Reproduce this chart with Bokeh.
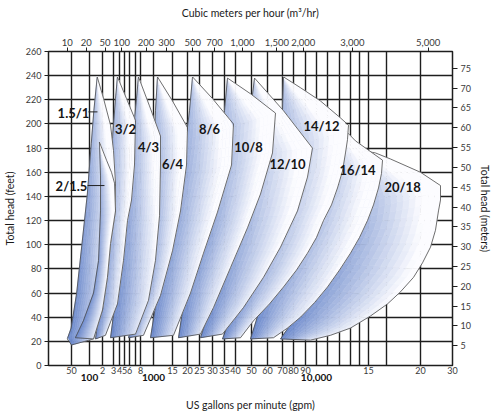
import numpy as np
from bokeh.plotting import figure
from bokeh.models import LinearAxis, Range1d, FixedTicker
from bokeh.embed import file_html
from bokeh.resources import INLINE
from bokeh.core.properties import value

# ---------------- scale of the chart (non-uniform gpm axis) ----------------
GPM_SCALE = [25, 50, 100, 200, 300, 400, 500, 600, 700, 800, 1000, 1500, 2000, 2500,
             3000, 3500, 4000, 5000, 6000, 7000, 8000, 9000, 10000, 11000, 12000,
             13000, 14000, 15000, 17500, 20000, 30000]
SCALE_POS = [0, 23, 41, 54, 65, 71, 76, 81, 87, 92, 105, 124, 139, 151, 164, 176, 187,
             203, 219, 234, 245, 257, 268, 279, 291, 302, 311, 320, 338, 372, 404]

# ---------------- tick labels ----------------
GPM_TICKS_SMALL = [50, 200, 300, 400, 500, 600, 800, 1500, 2000, 2500, 3000, 3500, 4000,
                   5000, 6000, 7000, 8000, 9000, 15000, 20000, 30000]
GPM_TEXT_SMALL = ["50", "2", "3", "4", "5", "6", "8", "15", "20", "25", "30", "35", "40",
                  "50", "60", "70", "80", "90", "15", "20", "30"]
GPM_TICKS_MAJOR = [100, 1000, 10000]
GPM_TEXT_MAJOR = ["100", "1000", "10,000"]
M3H_TICKS = [10, 20, 50, 100, 200, 300, 500, 700, 1000, 1500, 2000, 3000, 5000]
M3H_TEXT = ["10", "20", "50", "100", "200", "300", "500", "700", "1,000", "1,500",
            "2,000", "3,000", "5,000"]
FT_TICKS = list(range(0, 261, 20))
M_TICKS = list(range(5, 76, 5))
GPM_PER_M3H = 4.4029
M_PER_FT = 0.3048

# ---------------- pump ranges (gpm, feet), outline from bottom-left over the top ----------------
P1_5_1_GPM = [50, 44, 49.5, 61, 75, 92, 110, 126, 151, 208, 269, 300, 330, 330, 269, 240, 200, 124]
P1_5_1_FT = [17, 22, 31, 60, 101, 142, 184, 211, 239, 221, 199, 178, 151, 128, 101, 73, 46, 22]
P2_1_5_GPM = [58, 79, 124, 162, 180, 180, 170, 232, 279, 315, 330, 269, 240, 200, 124]
P2_1_5_FT = [23, 37, 60, 87, 128, 157, 185, 170, 160, 151, 128, 101, 73, 46, 22]
P3_2_GPM = [138, 232, 279, 300, 330, 363, 538, 700, 682, 632, 558, 478, 363, 223]
P3_2_FT = [22, 95, 178, 199, 221, 239, 221, 203, 166, 137, 120, 87, 51, 25]
P4_3_GPM = [269, 418, 558, 665, 719, 758, 933, 1161, 1161, 1137, 1043, 918, 700]
P4_3_FT = [23, 87, 137, 195, 221, 239, 215, 190, 166, 124, 87, 54, 26]
P6_4_GPM = [579, 872, 950, 1000, 1043, 1089, 1500, 2000, 1963, 1749, 1500, 1161, 842]
P6_4_FT = [23, 70, 120, 170, 211, 239, 219, 197, 166, 128, 95, 58, 25]
P8_6_GPM = [950, 1100, 1500, 1852, 2076, 2196, 3000, 3903, 3812, 3198, 2644, 2115, 1529]
P8_6_FT = [23, 62, 120, 170, 211, 239, 221, 200, 166, 127, 93, 60, 25]
P10_8_GPM = [1683, 1927, 2720, 3240, 3500, 3630, 4931, 6514, 6316, 5541, 4729, 3764, 3039, 2535]
P10_8_FT = [23, 62, 112, 161, 211, 238, 225, 209, 176, 142, 114, 81, 48, 26]
P12_10_GPM = [2535, 3117, 3764, 4289, 4931, 5176, 7085, 9622, 9174, 8320, 6859, 5733, 4472, 3410]
P12_10_FT = [23, 62, 112, 161, 211, 238, 211, 180, 156, 128, 98, 73, 48, 26]
P14_12_GPM = [3410, 4289, 5668, 6859, 7000, 7085, 8569, 10353, 12087, 12811, 12719, 12535, 12265,
              11827, 11323, 10625, 10000, 9174, 8239, 7085, 6125, 5115, 4289]
P14_12_FT = [22, 62, 112, 161, 211, 239, 230, 219, 205, 199, 187, 176, 161, 147, 133, 120, 106,
             93, 79, 65, 51, 37, 23]
P16_14_GPM = [4931, 5867, 8158, 10353, 11239, 11657, 13546, 16913, 16766, 16342, 15657, 14886,
              14000, 13000, 12000, 11000, 9810, 8569, 7438, 6382]
P16_14_FT = [22, 62, 112, 161, 195, 203, 186, 170, 159, 147, 133, 120, 106, 93, 79, 65, 52, 40,
             31, 23]
P20_18_GPM = [6859, 8569, 10810, 13000, 14000, 14326, 15925, 17776, 20000, 25772, 25772, 25120,
              24180, 22702, 20514, 19459, 18489, 17569, 15258, 13000, 11239, 9441]
P20_18_FT = [22, 46, 79, 112, 145, 178, 176, 171, 160, 149, 137, 128, 112, 98, 85, 73, 61, 51,
             41, 31, 25, 21]

LABELS = ["1.5/1", "2/1.5", "3/2", "4/3", "6/4", "8/6", "10/8", "12/10", "14/12", "16/14", "20/18"]
LABEL_GPM = [54, 50, 518, 918, 1500, 2875, 4796, 7438, 10443, 13772, 18640]
LABEL_FT = [209, 149, 196, 181, 167, 196, 181, 167, 198, 162, 148]
LEADER_GPM_FROM = [96, 93]
LEADER_GPM_TO = [153, 215]
LEADER_FT = [210, 149]

FONT = "Lato"
PX_PER_FT = 314 / 260


def xpos(g):
    return np.interp(np.log10(np.asarray(g, dtype=float)), np.log10(GPM_SCALE), SCALE_POS)


p = figure(width=496, height=416, x_range=Range1d(0, 404), y_range=Range1d(0, 260),
           output_backend="svg", toolbar_location=None,
           x_axis_location=None, y_axis_location=None,
           min_border_left=48, min_border_right=44, min_border_top=51, min_border_bottom=51)
p.background_fill_color = "white"
p.border_fill_color = "white"
p.outline_line_color = "#1e1e1e"
p.outline_line_width = 1.5

grid_pos = [float(v) for v in xpos(GPM_SCALE[1:-1])]
p.xgrid.ticker = FixedTicker(ticks=grid_pos)
p.ygrid.ticker = FixedTicker(ticks=FT_TICKS[1:-1])
for g in list(p.xgrid) + list(p.ygrid):
    g.grid_line_color = "#1e1e1e"
    g.grid_line_width = 1.4


def style_axis(ax, size="9px"):
    ax.axis_line_color = "#1e1e1e"
    ax.major_tick_line_color = "#1e1e1e"
    ax.minor_tick_line_color = None
    ax.major_tick_in = 0
    ax.major_label_text_font = FONT
    ax.major_label_text_font_size = size
    ax.major_label_text_color = "#3a3a3a"
    ax.axis_label_text_font = FONT
    ax.axis_label_text_font_size = "10.5px"
    ax.axis_label_text_font_style = "normal"
    ax.axis_label_text_color = "#1a1a1a"


# left axis (feet)
ax_l = LinearAxis(ticker=FixedTicker(ticks=FT_TICKS), axis_label="Total head (feet)")
style_axis(ax_l)
ax_l.major_tick_out = 4
ax_l.major_label_standoff = 3
ax_l.axis_label_standoff = 7
p.add_layout(ax_l, "left")

# right axis (meters)
p.extra_y_ranges = {"m": Range1d(0, 260 * M_PER_FT)}
ax_r = LinearAxis(y_range_name="m", ticker=FixedTicker(ticks=M_TICKS), axis_label="Total head (meters)")
style_axis(ax_r)
ax_r.major_tick_out = 5
ax_r.major_label_standoff = 3
ax_r.axis_label_standoff = 5
p.add_layout(ax_r, "right")

# top axis (m3/h)
top_pos = [round(float(v), 3) for v in xpos(np.array(M3H_TICKS) * GPM_PER_M3H)]
ax_t = LinearAxis(ticker=FixedTicker(ticks=top_pos), axis_label="Cubic meters per hour (m\u00b3/hr)",
                  major_label_overrides={k: t for k, t in zip(top_pos, M3H_TEXT)})
style_axis(ax_t, "9.5px")
ax_t.major_tick_out = 4
ax_t.major_label_standoff = 2
ax_t.axis_label_standoff = 17
p.add_layout(ax_t, "above")

# bottom axes (gpm)
small_pos = [round(float(v), 3) for v in xpos(GPM_TICKS_SMALL)]
ax_b1 = LinearAxis(ticker=FixedTicker(ticks=small_pos),
                   major_label_overrides={k: t for k, t in zip(small_pos, GPM_TEXT_SMALL)})
style_axis(ax_b1, "9px")
ax_b1.major_tick_out = 0
ax_b1.major_label_standoff = 1
p.add_layout(ax_b1, "below")

major_pos = [round(float(v), 3) for v in xpos(GPM_TICKS_MAJOR)]
ax_b2 = LinearAxis(ticker=FixedTicker(ticks=major_pos), axis_label="US gallons per minute (gpm)",
                   major_label_overrides={k: t for k, t in zip(major_pos, GPM_TEXT_MAJOR)})
style_axis(ax_b2, "10px")
ax_b2.major_label_text_font_style = "bold"
ax_b2.major_label_text_color = "#111111"
ax_b2.axis_line_color = None
ax_b2.major_tick_line_color = None
ax_b2.major_tick_out = 0
ax_b2.major_label_standoff = -3
ax_b2.axis_label_standoff = 15
p.add_layout(ax_b2, "below")

# ---------------- shaded pump regions ----------------
BLUE = np.array([104, 134, 202])
WHITE = np.array([252, 252, 255])


def resample(xs, ys, n):
    X = np.asarray(xs, float)
    Y = np.asarray(ys, float) * PX_PER_FT
    d = np.hypot(np.diff(X), np.diff(Y))
    s = np.concatenate([[0], np.cumsum(d)])
    s /= s[-1]
    t = np.linspace(0, 1, n)
    return np.interp(t, s, X), np.interp(t, s, Y) / PX_PER_FT


def shade(u, v):
    t = np.clip(0.85 * u + 0.5 * v, 0, 1) ** 1.1
    c = BLUE + (WHITE - BLUE) * t
    return "#%02x%02x%02x" % tuple(int(round(k)) for k in c)


def draw_region(gpm, ft, M=30, N=14):
    x = xpos(gpm)
    y = np.asarray(ft, float)
    k = int(np.argmax(y))
    lx, ly = resample(x[:k + 1], y[:k + 1], M + 1)
    rx, ry = resample(x[k:][::-1], y[k:][::-1], M + 1)
    xs, ys, cs = [], [], []
    for i in range(M):
        for j in range(N):
            u0, u1 = j / N, (j + 1) / N
            ax0 = lx[i] + (rx[i] - lx[i]) * u0
            ax1 = lx[i] + (rx[i] - lx[i]) * u1
            bx0 = lx[i + 1] + (rx[i + 1] - lx[i + 1]) * u0
            bx1 = lx[i + 1] + (rx[i + 1] - lx[i + 1]) * u1
            ay0 = ly[i] + (ry[i] - ly[i]) * u0
            ay1 = ly[i] + (ry[i] - ly[i]) * u1
            by0 = ly[i + 1] + (ry[i + 1] - ly[i + 1]) * u0
            by1 = ly[i + 1] + (ry[i + 1] - ly[i + 1]) * u1
            xs.append([ax0, ax1, bx1, bx0])
            ys.append([ay0, ay1, by1, by0])
            cs.append(shade((j + 0.5) / N, (i + 0.5) / M))
    p.patches(xs, ys, fill_color=cs, line_color=cs, line_width=0.6)
    p.patch(x, y, fill_color=None, line_color="#4a4a4a", line_width=0.8)


regions = [(P20_18_GPM, P20_18_FT), (P16_14_GPM, P16_14_FT), (P14_12_GPM, P14_12_FT),
           (P12_10_GPM, P12_10_FT), (P10_8_GPM, P10_8_FT), (P8_6_GPM, P8_6_FT),
           (P6_4_GPM, P6_4_FT), (P4_3_GPM, P4_3_FT), (P3_2_GPM, P3_2_FT),
           (P1_5_1_GPM, P1_5_1_FT), (P2_1_5_GPM, P2_1_5_FT)]
for g, f in regions:
    draw_region(g, f)

p.segment(x0=xpos(LEADER_GPM_FROM), y0=LEADER_FT, x1=xpos(LEADER_GPM_TO), y1=LEADER_FT,
          line_color="#222222", line_width=1)
p.text(x=xpos(LABEL_GPM), y=LABEL_FT, text=LABELS, text_font=value(FONT),
       text_font_size="13px", text_font_style="bold", text_color="#151515",
       text_align="center", text_baseline="middle")

open("out.html", "w").write(file_html(p, INLINE))
